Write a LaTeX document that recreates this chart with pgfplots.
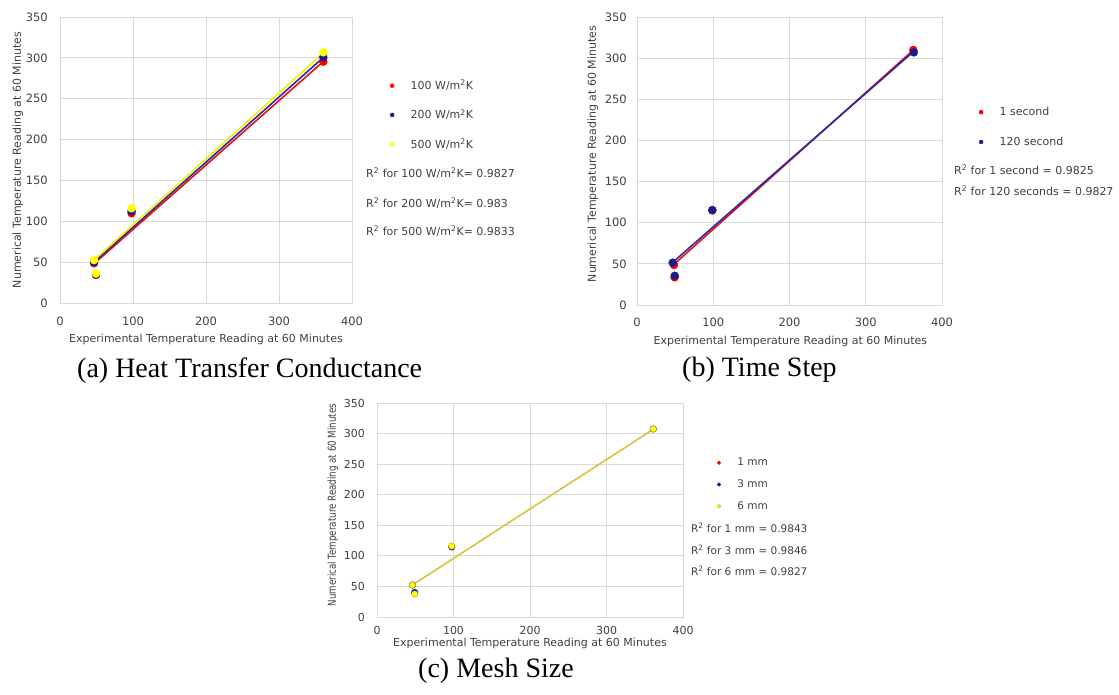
\documentclass[border=0pt]{standalone}
\usepackage{fontspec}
\setmainfont{DejaVu Sans}
\newfontfamily\capfont{Liberation Serif}
\usepackage{graphicx}
\usepackage{pgfplots}
\pgfplotsset{compat=1.18}
\definecolor{txt}{HTML}{404040}
\definecolor{gridc}{HTML}{D9D9D9}
\definecolor{pred}{HTML}{FF0000}
\definecolor{pblue}{HTML}{1C1C8C}
\definecolor{pyel}{HTML}{FFFF00}
\definecolor{lred}{HTML}{E81010}
\definecolor{lblue}{HTML}{2A2AA8}
\definecolor{lyel}{HTML}{F2F000}
\definecolor{cyel}{HTML}{DCD040}
\definecolor{cedge}{HTML}{B8A830}

\pgfplotsset{
  base/.style={
    scale only axis, anchor=south west, clip=false,
    xmin=0, xmax=400, ymin=0, ymax=350,
    xtick={0,100,200,300,400},
    ytick={0,50,100,150,200,250,300,350},
    grid=major,
    major grid style={gridc, line width=0.9pt},
    axis line style={gridc, line width=0.9pt},
    major tick length=0pt, tick style={draw=none},
    /pgf/number format/assume math mode=true,
    tick label style={font=\fontsize{11.5}{13}\selectfont, text=txt, inner sep=0pt},
    yticklabel style={anchor=east, xshift=-12pt},
    label style={font=\fontsize{11}{13}\selectfont, text=txt},
    xlabel={Experimental Temperature Reading at 60 Minutes},
    ylabel={Numerical Temperature Reading at 60 Minutes},
    legend style={draw=none, fill=none, inner sep=0pt, anchor=north west,
      font=\fontsize{11}{13}\selectfont, text=txt,
      nodes={inner sep=0pt},
      /tikz/every odd column/.append style={column sep=16.5pt}},
    legend cell align=left,
    legend image code/.code={\draw[##1] plot coordinates {(0pt,0pt)};},
    legend image post style={mark size=2pt},
  },
  sc/.style={only marks, mark=*, mark size=4pt, color=#1, mark options={draw=#1, fill=#1}},
  tl/.style={no marks, line width=1.6pt, color=#1, forget plot},
}
\tikzset{rsqn/.style={anchor=west, inner sep=0pt, font=\fontsize{11}{13}\selectfont, text=txt}}
\newcommand{\rsq}{R\textsuperscript{2}}
\newcommand{\wmk}{W/m\textsuperscript{2}K}

\begin{document}
\begin{tikzpicture}
\path[use as bounding box] (0pt,0pt) rectangle (1119pt,695pt);

% ---------------- (a) ----------------
\begin{axis}[base, at={(60pt,392pt)}, width=292pt, height=286pt,
  xticklabel style={anchor=center, yshift=-18pt},
  xlabel style={at={(axis description cs:0.5,-0.129)}, anchor=center},
  ylabel style={at={(axis description cs:-0.144,0.5)}, anchor=center},
  legend style={at={(axis description cs:1.13,0.78)}, row sep=18pt}]
\addplot[sc=pred] coordinates {(46.6,48.6) (49.3,34.3) (98,109.8) (360.7,295.3)};
\addlegendentry{100 \wmk}
\addplot[sc=pblue] coordinates {(46.6,50) (49.3,34.8) (98,112.5) (360.7,300.6)};
\addlegendentry{200 \wmk}
\addplot[sc=pyel] coordinates {(46.6,52.5) (49.3,36) (98,115.9) (360.7,306.8)};
\addlegendentry{500 \wmk}
\addplot[tl=lred] coordinates {(46.6,48) (360.7,295.5)};
\addplot[tl=lblue] coordinates {(46.6,50) (360.7,300.5)};
\addplot[tl=lyel] coordinates {(46.6,52.5) (360.7,306)};
\node[rsqn] at (axis description cs:1.048,0.4545) {\rsq{} for 100 \wmk= 0.9827};
\node[rsqn] at (axis description cs:1.048,0.3497) {\rsq{} for 200 \wmk= 0.983};
\node[rsqn] at (axis description cs:1.048,0.2517) {\rsq{} for 500 \wmk= 0.9833};
\end{axis}

% ---------------- (b) ----------------
\begin{axis}[base, at={(637pt,390pt)}, width=305pt, height=288pt,
  yticklabel style={xshift=2pt},
  xticklabel style={anchor=center, yshift=-17pt},
  xlabel style={at={(axis description cs:0.503,-0.128)}, anchor=center},
  ylabel style={at={(axis description cs:-0.145,0.524)}, anchor=center},
  legend style={at={(axis description cs:1.121,0.6875)}, row sep=20pt}]
\addplot[sc=pred] coordinates {(48.5,48.6) (49.4,33.6) (98.8,115) (362.4,309.9)};
\addlegendentry{1 second}
\addplot[sc=pblue] coordinates {(46.8,51.4) (49.4,35.5) (98.8,115.4) (363,307)};
\addlegendentry{120 second}
\addplot[tl=lred] coordinates {(48,49) (362,309.5)};
\addplot[tl=lblue] coordinates {(47,52) (362,307.5)};
\node[rsqn] at (axis description cs:1.0393,0.469) {\rsq{} for 1 second = 0.9825};
\node[rsqn] at (axis description cs:1.0393,0.3969) {\rsq{} for 120 seconds = 0.9827};
\end{axis}

% ---------------- (c) ----------------
\begin{axis}[base, at={(377pt,78pt)}, width=306pt, height=214pt,
  tick label style={font=\fontsize{11}{13}\selectfont},
  xticklabel style={anchor=center, yshift=-13pt},
  ylabel={\scalebox{0.79}[1]{Numerical Temperature Reading at 60 Minutes}},
  xlabel style={at={(axis description cs:0.5,-0.126)}, anchor=center},
  ylabel style={at={(axis description cs:-0.144,0.523)}, anchor=center},
  legend style={at={(axis description cs:1.111,0.743)}, row sep=12.5pt,
    font=\fontsize{10.5}{12}\selectfont},
  legend image post style={mark size=1.8pt}]
\addplot[sc=pred, mark size=3.2pt] coordinates {(46.2,52.3) (49.2,39.5) (97.6,115) (361.2,307.5)};
\addlegendentry{1 mm}
\addplot[sc=pblue, mark size=3.2pt] coordinates {(46.2,52.3) (49.2,40.4) (97.6,114.5) (361.2,307.5)};
\addlegendentry{3 mm}
\addplot[only marks, mark=*, mark size=3.2pt, color=pyel, mark options={draw=cedge, fill=pyel, line width=0.4pt}] coordinates {(46.2,52.3) (49.2,37.6) (97.6,116) (361.2,307.5)};
\addlegendentry{6 mm}
\addplot[tl=pred, line width=0.8pt] coordinates {(46.2,52.3) (361.2,307)};
\addplot[tl=pblue, line width=0.8pt] coordinates {(46.2,52.3) (361.2,307)};
\addplot[tl=cyel, line width=1.5pt] coordinates {(46.2,52.3) (361.2,307)};
\node[rsqn, font=\fontsize{10.5}{12}\selectfont] at (axis description cs:1.026,0.416) {\rsq{} for 1 mm = 0.9843};
\node[rsqn, font=\fontsize{10.5}{12}\selectfont] at (axis description cs:1.026,0.313) {\rsq{} for 3 mm = 0.9846};
\node[rsqn, font=\fontsize{10.5}{12}\selectfont] at (axis description cs:1.026,0.215) {\rsq{} for 6 mm = 0.9827};
\end{axis}

% ---------------- captions ----------------
\node[anchor=base west, inner sep=0pt, font=\capfont\fontsize{28}{30}\selectfont] at (77pt,317pt) {(a) Heat Transfer Conductance};
\node[anchor=base west, inner sep=0pt, font=\capfont\fontsize{28}{30}\selectfont] at (682pt,318pt) {(b) Time Step};
\node[anchor=base west, inner sep=0pt, font=\capfont\fontsize{28}{30}\selectfont] at (418pt,17pt) {(c) Mesh Size};
\end{tikzpicture}
\end{document}
